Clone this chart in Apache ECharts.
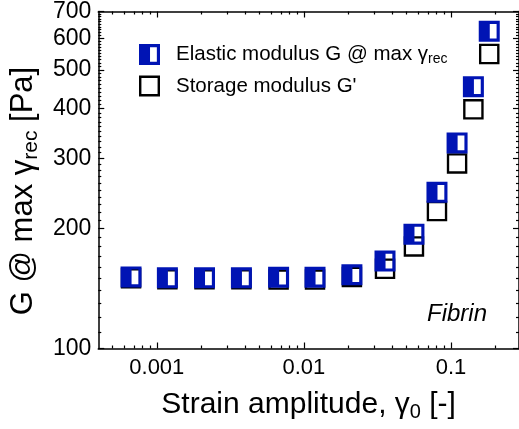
<!DOCTYPE html>
<html>
<head>
<meta charset="utf-8">
<script src="https://cdn.jsdelivr.net/npm/echarts@6/dist/echarts.min.js"></script>
<style>
  html, body { margin: 0; padding: 0; background: #fff; }
  #chart { width: 519px; height: 429px; }
</style>
</head>
<body>
<div id="chart"></div>
<script>
// Strain sweep of a fibrin gel: modulus vs. strain amplitude (log-log)
const strainAmplitude = [0.000668, 0.00118, 0.00211, 0.00376, 0.00673, 0.0119, 0.0212, 0.0356, 0.0560, 0.0803, 0.110, 0.142, 0.182];
const elasticModulus  = [151.2, 150.4, 150.4, 150.4, 150.9, 150.9, 153.1, 165.7, 193.5, 246.4, 327.7, 453.6, 624.6];
const storageModulus  = [150.0, 149.1, 149.1, 149.1, 148.9, 148.9, 151.1, 158.5, 180.3, 221.1, 291.2, 397.9, 547.7];

const xMajorTicks = [0.001, 0.01, 0.1];
const xMinorTicks = [0.0005, 0.0006, 0.0007, 0.0008, 0.0009,
                     0.002, 0.003, 0.004, 0.005, 0.006, 0.007, 0.008, 0.009,
                     0.02, 0.03, 0.04, 0.05, 0.06, 0.07, 0.08, 0.09, 0.2];
const yMajorTicks = [100, 200, 300, 400, 500, 600, 700];
const yMinorTicks = [];
for (let h = 100; h < 700; h += 100) {
  for (let k = 10; k < 100; k += 10) yMinorTicks.push(h + k);
}

const seriesNames = ['Elastic modulus G @ max γrec', "Storage modulus G'"];

const FONT = 'Liberation Sans, Arial, sans-serif';
const BLUE = '#0014b4';
const X_RANGE = [0.0004, 0.29];
const Y_RANGE = [100, 700];

// half-filled square (open on the right) and open square, as symbol paths
const halfSquare = 'path://M0,0H20V20H0Z M10.5,3V17H17V3Z';
const openSquare = 'path://M0,0H20V20H0Z M2.3,2.3V17.7H17.7V2.3Z';

const tickFmt = v => String(+(+v).toPrecision(6));

function xAxisDef(position, ticks, len, labels, line, extra) {
  return Object.assign({
    type: 'log', position: position, min: X_RANGE[0], max: X_RANGE[1],
    axisLine: { show: line, onZero: false, lineStyle: { color: '#000', width: 1.5 } },
    axisTick: { show: true, inside: true, length: len, customValues: ticks,
                lineStyle: { color: '#000', width: 1.2 } },
    axisLabel: labels ? { show: true, customValues: ticks, formatter: tickFmt, margin: 8,
                          color: '#000', fontFamily: FONT, fontSize: 22 } : { show: false },
    splitLine: { show: false }, minorTick: { show: false }
  }, extra || {});
}
function yAxisDef(position, ticks, len, labels, line, extra) {
  return Object.assign({
    type: 'log', position: position, min: Y_RANGE[0], max: Y_RANGE[1],
    axisLine: { show: line, onZero: false, lineStyle: { color: '#000', width: 1.5 } },
    axisTick: { show: true, inside: true, length: len, customValues: ticks,
                lineStyle: { color: '#000', width: 1.2 } },
    axisLabel: labels ? { show: true, customValues: ticks, formatter: tickFmt, margin: 7,
                          color: '#000', fontFamily: FONT, fontSize: 23 } : { show: false },
    splitLine: { show: false }, minorTick: { show: false }
  }, extra || {});
}

const chart = echarts.init(document.getElementById('chart'), null, { renderer: 'canvas' });

chart.setOption({
  backgroundColor: '#fff',
  animation: false,
  grid: { left: 98, right: 0, top: 8, bottom: 80.5, containLabel: false },
  xAxis: [
    xAxisDef('bottom', xMajorTicks, 6, true, true, {
      name: '{t|Strain amplitude, γ}{s|0}{t| [-]}',
      nameLocation: 'middle', nameGap: 38,
      nameTextStyle: {
        color: '#000', fontFamily: FONT, fontSize: 30,
        rich: {
          t: { fontFamily: FONT, fontSize: 30, color: '#000' },
          s: { fontFamily: FONT, fontSize: 20, color: '#000', padding: [16, 0, 0, 0] }
        }
      }
    }),
    xAxisDef('bottom', xMinorTicks, 3, false, false),
    xAxisDef('top', xMajorTicks, 6, false, true),
    xAxisDef('top', xMinorTicks, 3, false, false)
  ],
  yAxis: [
    yAxisDef('left', yMajorTicks, 6, true, true, {
      name: '{t|G @ max γ}{s|rec}{t| [Pa]}',
      nameLocation: 'middle', nameGap: 50, nameRotate: 90,
      nameTextStyle: {
        color: '#000', fontFamily: FONT, fontSize: 31,
        padding: [0, 22, 0, 0],
        rich: {
          t: { fontFamily: FONT, fontSize: 31, color: '#000' },
          s: { fontFamily: FONT, fontSize: 21, color: '#000', padding: [16, 0, 0, 0] }
        }
      }
    }),
    yAxisDef('left', yMinorTicks, 3, false, false),
    yAxisDef('right', yMajorTicks, 6, false, true),
    yAxisDef('right', yMinorTicks, 3, false, false)
  ],
  legend: {
    orient: 'vertical', left: 134, top: 38,
    itemWidth: 21, itemHeight: 21, itemGap: 9.5,
    selectedMode: false,
    data: [
      { name: seriesNames[0], icon: halfSquare },
      { name: seriesNames[1], icon: openSquare }
    ],
    formatter: name => name === seriesNames[0]
      ? '{t|Elastic modulus G @ max γ}{s|rec}'
      : '{t|' + name + '}',
    textStyle: {
      color: '#000', fontFamily: FONT, fontSize: 20.5, padding: [0, 0, 0, 11],
      rich: {
        t: { fontFamily: FONT, fontSize: 20.5, color: '#000', lineHeight: 21 },
        s: { fontFamily: FONT, fontSize: 14, color: '#000', padding: [9, 0, 0, 0], lineHeight: 21 }
      }
    }
  },
  graphic: [{
    type: 'text', right: 32, top: 302,
    style: { text: 'Fibrin', font: 'italic 24px ' + FONT, fill: '#000' }
  }],
  series: [
    {
      name: seriesNames[1], type: 'scatter', xAxisIndex: 0, yAxisIndex: 0,
      symbol: openSquare, symbolSize: 20.5,
      itemStyle: { color: '#000', opacity: 1 },
      data: strainAmplitude.map((x, i) => [x, storageModulus[i]])
    },
    {
      name: seriesNames[0], type: 'scatter', xAxisIndex: 0, yAxisIndex: 0,
      symbol: halfSquare, symbolSize: 21,
      itemStyle: { color: BLUE, opacity: 1 },
      data: strainAmplitude.map((x, i) => [x, elasticModulus[i]])
    }
  ]
});
</script>
</body>
</html>
